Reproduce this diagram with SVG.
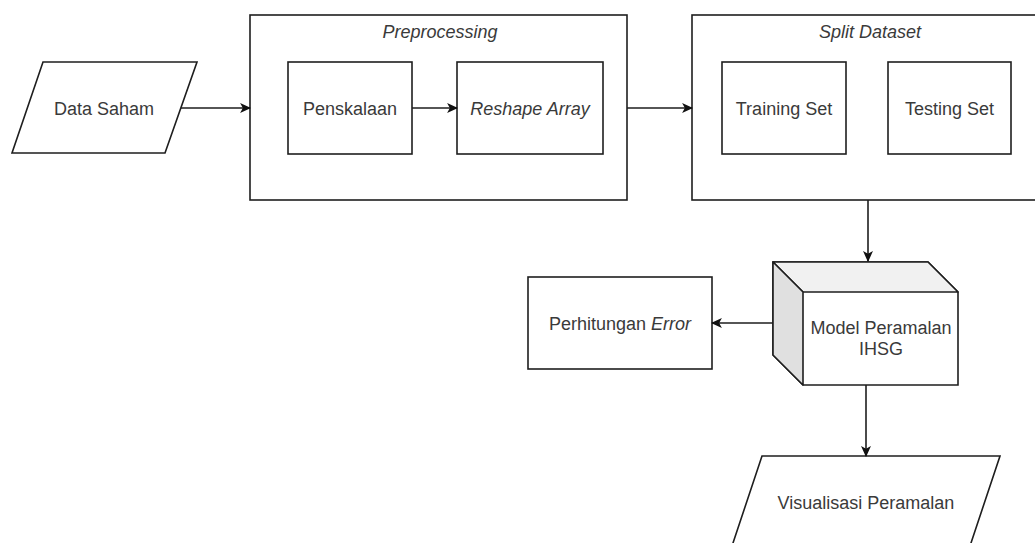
<svg xmlns="http://www.w3.org/2000/svg" width="1035" height="543" viewBox="0 0 1035 543">
  <style>
    .shape { fill: #ffffff; stroke: #1e1e1e; stroke-width: 1.6; }
    .edge { fill: none; stroke: #1e1e1e; stroke-width: 1.6; }
    .label { font-family: "Liberation Sans", Arial, sans-serif; font-size: 18px; fill: #3a3a3a; text-anchor: middle; }
    .it { font-style: italic; }
  </style>
  <defs>
    <marker id="arrow" viewBox="0 0 10 10" refX="9" refY="5" markerWidth="11" markerHeight="11" markerUnits="userSpaceOnUse" orient="auto">
      <path d="M0,0.5 L10,5 L0,9.5 L2.5,5 Z" fill="#111111"/>
    </marker>
  </defs>
  <rect width="1035" height="543" fill="#ffffff"/>

  <!-- input data -->
  <g id="data-saham">
    <polygon class="shape" points="43,62 197,62 165,153 12,153"/>
    <text class="label" x="104" y="115">Data Saham</text>
  </g>

  <!-- preprocessing container -->
  <g id="preprocessing">
    <rect class="shape" x="250" y="15" width="377" height="185"/>
    <text class="label it" x="440" y="38">Preprocessing</text>
  </g>
  <g id="penskalaan">
    <rect class="shape" x="288" y="62" width="124" height="92"/>
    <text class="label" x="350" y="115">Penskalaan</text>
  </g>
  <g id="reshape-array">
    <rect class="shape" x="457" y="62" width="146" height="92"/>
    <text class="label it" x="530" y="115">Reshape Array</text>
  </g>

  <!-- dataset split container -->
  <g id="split-dataset">
    <rect class="shape" x="692" y="15" width="350" height="185"/>
    <text class="label it" x="870" y="38">Split Dataset</text>
  </g>
  <g id="training-set">
    <rect class="shape" x="722" y="62" width="124" height="92"/>
    <text class="label" x="784" y="115">Training Set</text>
  </g>
  <g id="testing-set">
    <rect class="shape" x="888" y="62" width="123" height="92"/>
    <text class="label" x="949.5" y="115">Testing Set</text>
  </g>

  <!-- forecasting model (cube) -->
  <g id="model-peramalan">
    <polygon class="shape" points="773,262 928,262 958,292 958,385 803,385 773,355"/>
    <polygon points="773,262 928,262 958,292 803,292" fill="#f1f1f1" stroke="#1e1e1e" stroke-width="1.6" stroke-linejoin="round"/>
    <polygon points="773,262 803,292 803,385 773,355" fill="#e0e0e0" stroke="#1e1e1e" stroke-width="1.6" stroke-linejoin="round"/>
    <text class="label" x="881" y="334">Model Peramalan</text>
    <text class="label" x="881" y="355">IHSG</text>
  </g>

  <g id="perhitungan-error">
    <rect class="shape" x="528" y="277" width="184" height="92"/>
    <text class="label" x="620" y="330">Perhitungan <tspan class="it">Error</tspan></text>
  </g>

  <g id="visualisasi-peramalan">
    <polygon class="shape" points="762,456 1000,456 970,546 732,546"/>
    <text class="label" x="866" y="509">Visualisasi Peramalan</text>
  </g>

  <!-- connectors -->
  <g id="connectors">
    <line class="edge" x1="181" y1="108" x2="250" y2="108" marker-end="url(#arrow)"/>
    <line class="edge" x1="412" y1="108" x2="457" y2="108" marker-end="url(#arrow)"/>
    <line class="edge" x1="627" y1="108" x2="692" y2="108" marker-end="url(#arrow)"/>
    <line class="edge" x1="868" y1="200" x2="868" y2="261" marker-end="url(#arrow)"/>
    <line class="edge" x1="773" y1="323" x2="712" y2="323" marker-end="url(#arrow)"/>
    <line class="edge" x1="866" y1="385" x2="866" y2="456" marker-end="url(#arrow)"/>
  </g>
</svg>
